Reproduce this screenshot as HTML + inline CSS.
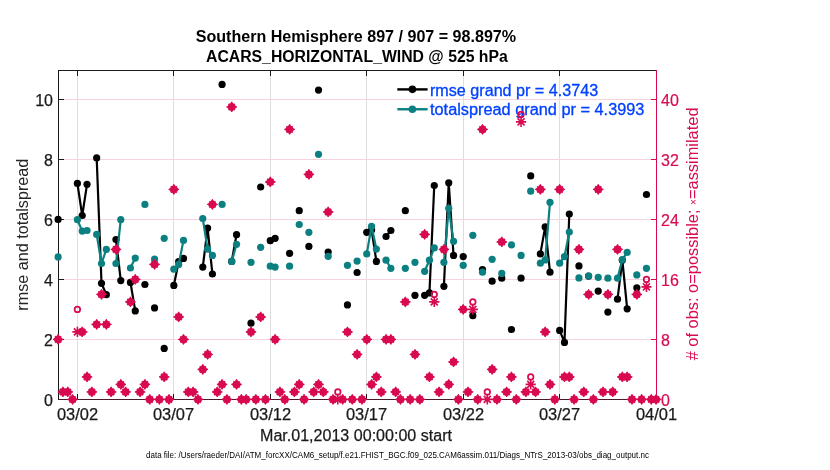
<!DOCTYPE html><html><head><meta charset="utf-8"><style>html,body{margin:0;padding:0;background:#fff;width:830px;height:470px;overflow:hidden}svg{display:block;will-change:transform}text{font-family:"Liberation Sans",sans-serif}</style></head><body>
<svg width="830" height="470" viewBox="0 0 830 470">
<rect x="0" y="0" width="830" height="470" fill="#fff"/>
<rect x="77" y="71" width="1" height="328" fill="#dedede"/>
<rect x="173" y="71" width="1" height="328" fill="#dedede"/>
<rect x="270" y="71" width="1" height="328" fill="#dedede"/>
<rect x="366" y="71" width="1" height="328" fill="#dedede"/>
<rect x="463" y="71" width="1" height="328" fill="#dedede"/>
<rect x="559" y="71" width="1" height="328" fill="#dedede"/>
<rect x="59" y="99" width="597" height="1" fill="#f7d3df"/>
<rect x="59" y="159" width="597" height="1" fill="#f7d3df"/>
<rect x="59" y="219" width="597" height="1" fill="#f7d3df"/>
<rect x="59" y="279" width="597" height="1" fill="#f7d3df"/>
<rect x="59" y="339" width="597" height="1" fill="#f7d3df"/>
<rect x="58" y="70" width="599" height="1" fill="#1a1a1a"/>
<rect x="58" y="399" width="599" height="1" fill="#4a1a2a"/>
<rect x="58" y="70" width="1" height="330" fill="#1a1a1a"/>
<rect x="656" y="70" width="1" height="330" fill="#d80a50"/>
<rect x="77" y="71" width="1" height="5" fill="#1a1a1a"/>
<rect x="77" y="394" width="1" height="5" fill="#1a1a1a"/>
<rect x="173" y="71" width="1" height="5" fill="#1a1a1a"/>
<rect x="173" y="394" width="1" height="5" fill="#1a1a1a"/>
<rect x="270" y="71" width="1" height="5" fill="#1a1a1a"/>
<rect x="270" y="394" width="1" height="5" fill="#1a1a1a"/>
<rect x="366" y="71" width="1" height="5" fill="#1a1a1a"/>
<rect x="366" y="394" width="1" height="5" fill="#1a1a1a"/>
<rect x="463" y="71" width="1" height="5" fill="#1a1a1a"/>
<rect x="463" y="394" width="1" height="5" fill="#1a1a1a"/>
<rect x="559" y="71" width="1" height="5" fill="#1a1a1a"/>
<rect x="559" y="394" width="1" height="5" fill="#1a1a1a"/>
<rect x="59" y="99" width="5" height="1" fill="#1a1a1a"/>
<rect x="651" y="99" width="5" height="1" fill="#d80a50"/>
<rect x="59" y="159" width="5" height="1" fill="#1a1a1a"/>
<rect x="651" y="159" width="5" height="1" fill="#d80a50"/>
<rect x="59" y="219" width="5" height="1" fill="#1a1a1a"/>
<rect x="651" y="219" width="5" height="1" fill="#d80a50"/>
<rect x="59" y="279" width="5" height="1" fill="#1a1a1a"/>
<rect x="651" y="279" width="5" height="1" fill="#d80a50"/>
<rect x="59" y="339" width="5" height="1" fill="#1a1a1a"/>
<rect x="651" y="339" width="5" height="1" fill="#d80a50"/>
<polyline points="77.39,183.4 82.21,215.5 87.04,184.3" fill="none" stroke="#000000" stroke-width="2.2" stroke-linejoin="round"/>
<polyline points="96.68,157.9 101.5,283.3 106.33,294.7" fill="none" stroke="#000000" stroke-width="2.2" stroke-linejoin="round"/>
<polyline points="115.97,239.5 120.79,280.6" fill="none" stroke="#000000" stroke-width="2.2" stroke-linejoin="round"/>
<polyline points="130.44,282.4 135.26,310.9" fill="none" stroke="#000000" stroke-width="2.2" stroke-linejoin="round"/>
<polyline points="173.84,285.4 178.67,261.7 183.49,258.4" fill="none" stroke="#000000" stroke-width="2.2" stroke-linejoin="round"/>
<polyline points="202.78,267.1 207.6,228.1 212.42,274" fill="none" stroke="#000000" stroke-width="2.2" stroke-linejoin="round"/>
<polyline points="231.71,261.4 236.54,234.7" fill="none" stroke="#000000" stroke-width="2.2" stroke-linejoin="round"/>
<polyline points="270.29,240.7 275.12,238.3" fill="none" stroke="#000000" stroke-width="2.2" stroke-linejoin="round"/>
<polyline points="366.75,232.3 371.57,229.9 376.39,261.4" fill="none" stroke="#000000" stroke-width="2.2" stroke-linejoin="round"/>
<polyline points="386.04,236.5 390.86,230.5" fill="none" stroke="#000000" stroke-width="2.2" stroke-linejoin="round"/>
<polyline points="424.62,295.3 429.44,292.9 434.26,185.5" fill="none" stroke="#000000" stroke-width="2.2" stroke-linejoin="round"/>
<polyline points="443.91,286.3 448.73,182.8 453.55,255.4" fill="none" stroke="#000000" stroke-width="2.2" stroke-linejoin="round"/>
<polyline points="540.36,253.9 545.18,226.9 550.01,272.2" fill="none" stroke="#000000" stroke-width="2.2" stroke-linejoin="round"/>
<polyline points="559.65,330.4 564.47,342.4 569.3,214" fill="none" stroke="#000000" stroke-width="2.2" stroke-linejoin="round"/>
<polyline points="617.52,299.2 622.34,260.2 627.17,308.8" fill="none" stroke="#000000" stroke-width="2.2" stroke-linejoin="round"/>
<circle cx="58.1" cy="219.4" r="3.6" fill="#000000"/>
<circle cx="77.39" cy="183.4" r="3.6" fill="#000000"/>
<circle cx="82.21" cy="215.5" r="3.6" fill="#000000"/>
<circle cx="87.04" cy="184.3" r="3.6" fill="#000000"/>
<circle cx="96.68" cy="157.9" r="3.6" fill="#000000"/>
<circle cx="101.5" cy="283.3" r="3.6" fill="#000000"/>
<circle cx="106.33" cy="294.7" r="3.6" fill="#000000"/>
<circle cx="115.97" cy="239.5" r="3.6" fill="#000000"/>
<circle cx="120.79" cy="280.6" r="3.6" fill="#000000"/>
<circle cx="130.44" cy="282.4" r="3.6" fill="#000000"/>
<circle cx="135.26" cy="310.9" r="3.6" fill="#000000"/>
<circle cx="144.91" cy="284.5" r="3.6" fill="#000000"/>
<circle cx="154.55" cy="307.9" r="3.6" fill="#000000"/>
<circle cx="164.2" cy="348.4" r="3.6" fill="#000000"/>
<circle cx="173.84" cy="285.4" r="3.6" fill="#000000"/>
<circle cx="178.67" cy="261.7" r="3.6" fill="#000000"/>
<circle cx="183.49" cy="258.4" r="3.6" fill="#000000"/>
<circle cx="202.78" cy="267.1" r="3.6" fill="#000000"/>
<circle cx="207.6" cy="228.1" r="3.6" fill="#000000"/>
<circle cx="212.42" cy="274" r="3.6" fill="#000000"/>
<circle cx="222.07" cy="84.4" r="3.6" fill="#000000"/>
<circle cx="231.71" cy="261.4" r="3.6" fill="#000000"/>
<circle cx="236.54" cy="234.7" r="3.6" fill="#000000"/>
<circle cx="251" cy="323.2" r="3.6" fill="#000000"/>
<circle cx="260.65" cy="187" r="3.6" fill="#000000"/>
<circle cx="270.29" cy="240.7" r="3.6" fill="#000000"/>
<circle cx="275.12" cy="238.3" r="3.6" fill="#000000"/>
<circle cx="289.58" cy="253.3" r="3.6" fill="#000000"/>
<circle cx="299.23" cy="210.7" r="3.6" fill="#000000"/>
<circle cx="308.88" cy="246.4" r="3.6" fill="#000000"/>
<circle cx="318.52" cy="90.1" r="3.6" fill="#000000"/>
<circle cx="328.17" cy="252.1" r="3.6" fill="#000000"/>
<circle cx="347.46" cy="304.9" r="3.6" fill="#000000"/>
<circle cx="357.1" cy="272.5" r="3.6" fill="#000000"/>
<circle cx="366.75" cy="232.3" r="3.6" fill="#000000"/>
<circle cx="371.57" cy="229.9" r="3.6" fill="#000000"/>
<circle cx="376.39" cy="261.4" r="3.6" fill="#000000"/>
<circle cx="386.04" cy="236.5" r="3.6" fill="#000000"/>
<circle cx="390.86" cy="230.5" r="3.6" fill="#000000"/>
<circle cx="405.33" cy="210.7" r="3.6" fill="#000000"/>
<circle cx="414.97" cy="295.3" r="3.6" fill="#000000"/>
<circle cx="424.62" cy="295.3" r="3.6" fill="#000000"/>
<circle cx="429.44" cy="292.9" r="3.6" fill="#000000"/>
<circle cx="434.26" cy="185.5" r="3.6" fill="#000000"/>
<circle cx="443.91" cy="286.3" r="3.6" fill="#000000"/>
<circle cx="448.73" cy="182.8" r="3.6" fill="#000000"/>
<circle cx="453.55" cy="255.4" r="3.6" fill="#000000"/>
<circle cx="463.2" cy="256.6" r="3.6" fill="#000000"/>
<circle cx="472.84" cy="315.7" r="3.6" fill="#000000"/>
<circle cx="482.49" cy="269.5" r="3.6" fill="#000000"/>
<circle cx="492.13" cy="281.2" r="3.6" fill="#000000"/>
<circle cx="501.78" cy="278.2" r="3.6" fill="#000000"/>
<circle cx="511.42" cy="329.5" r="3.6" fill="#000000"/>
<circle cx="521.07" cy="278.2" r="3.6" fill="#000000"/>
<circle cx="530.71" cy="175.9" r="3.6" fill="#000000"/>
<circle cx="540.36" cy="253.9" r="3.6" fill="#000000"/>
<circle cx="545.18" cy="226.9" r="3.6" fill="#000000"/>
<circle cx="550.01" cy="272.2" r="3.6" fill="#000000"/>
<circle cx="559.65" cy="330.4" r="3.6" fill="#000000"/>
<circle cx="564.47" cy="342.4" r="3.6" fill="#000000"/>
<circle cx="569.3" cy="214" r="3.6" fill="#000000"/>
<circle cx="578.94" cy="265.9" r="3.6" fill="#000000"/>
<circle cx="588.59" cy="276.1" r="3.6" fill="#000000"/>
<circle cx="598.23" cy="291.1" r="3.6" fill="#000000"/>
<circle cx="607.88" cy="312.1" r="3.6" fill="#000000"/>
<circle cx="617.52" cy="299.2" r="3.6" fill="#000000"/>
<circle cx="622.34" cy="260.2" r="3.6" fill="#000000"/>
<circle cx="627.17" cy="308.8" r="3.6" fill="#000000"/>
<circle cx="636.81" cy="287.8" r="3.6" fill="#000000"/>
<circle cx="646.46" cy="194.5" r="3.6" fill="#000000"/>
<polyline points="77.39,219.7 82.21,231.1 87.04,230.5" fill="none" stroke="#0c8080" stroke-width="2.2" stroke-linejoin="round"/>
<polyline points="96.68,234.4 101.5,263.5 106.33,249.4" fill="none" stroke="#0c8080" stroke-width="2.2" stroke-linejoin="round"/>
<polyline points="115.97,263.5 120.79,219.7" fill="none" stroke="#0c8080" stroke-width="2.2" stroke-linejoin="round"/>
<polyline points="130.44,268 135.26,258.1" fill="none" stroke="#0c8080" stroke-width="2.2" stroke-linejoin="round"/>
<polyline points="173.84,269.2 178.67,264.4 183.49,240.4" fill="none" stroke="#0c8080" stroke-width="2.2" stroke-linejoin="round"/>
<polyline points="202.78,218.5 207.6,249.1 212.42,255.4" fill="none" stroke="#0c8080" stroke-width="2.2" stroke-linejoin="round"/>
<polyline points="231.71,261.4 236.54,244.3" fill="none" stroke="#0c8080" stroke-width="2.2" stroke-linejoin="round"/>
<polyline points="270.29,266.2 275.12,267.1" fill="none" stroke="#0c8080" stroke-width="2.2" stroke-linejoin="round"/>
<polyline points="366.75,253.9 371.57,226.3 376.39,249.1" fill="none" stroke="#0c8080" stroke-width="2.2" stroke-linejoin="round"/>
<polyline points="386.04,260.2 390.86,268.3" fill="none" stroke="#0c8080" stroke-width="2.2" stroke-linejoin="round"/>
<polyline points="424.62,271.3 429.44,260.2 434.26,247.9" fill="none" stroke="#0c8080" stroke-width="2.2" stroke-linejoin="round"/>
<polyline points="443.91,262.3 448.73,208.3 453.55,241.3" fill="none" stroke="#0c8080" stroke-width="2.2" stroke-linejoin="round"/>
<polyline points="540.36,263.2 545.18,259.9 550.01,202.3" fill="none" stroke="#0c8080" stroke-width="2.2" stroke-linejoin="round"/>
<polyline points="559.65,263.2 564.47,256.6 569.3,232" fill="none" stroke="#0c8080" stroke-width="2.2" stroke-linejoin="round"/>
<polyline points="617.52,278.2 622.34,259.6 627.17,252.4" fill="none" stroke="#0c8080" stroke-width="2.2" stroke-linejoin="round"/>
<circle cx="58.1" cy="256.9" r="3.6" fill="#0c8080"/>
<circle cx="77.39" cy="219.7" r="3.6" fill="#0c8080"/>
<circle cx="82.21" cy="231.1" r="3.6" fill="#0c8080"/>
<circle cx="87.04" cy="230.5" r="3.6" fill="#0c8080"/>
<circle cx="96.68" cy="234.4" r="3.6" fill="#0c8080"/>
<circle cx="101.5" cy="263.5" r="3.6" fill="#0c8080"/>
<circle cx="106.33" cy="249.4" r="3.6" fill="#0c8080"/>
<circle cx="115.97" cy="263.5" r="3.6" fill="#0c8080"/>
<circle cx="120.79" cy="219.7" r="3.6" fill="#0c8080"/>
<circle cx="130.44" cy="268" r="3.6" fill="#0c8080"/>
<circle cx="135.26" cy="258.1" r="3.6" fill="#0c8080"/>
<circle cx="144.91" cy="204.4" r="3.6" fill="#0c8080"/>
<circle cx="154.55" cy="259" r="3.6" fill="#0c8080"/>
<circle cx="164.2" cy="238.3" r="3.6" fill="#0c8080"/>
<circle cx="173.84" cy="269.2" r="3.6" fill="#0c8080"/>
<circle cx="178.67" cy="264.4" r="3.6" fill="#0c8080"/>
<circle cx="183.49" cy="240.4" r="3.6" fill="#0c8080"/>
<circle cx="202.78" cy="218.5" r="3.6" fill="#0c8080"/>
<circle cx="207.6" cy="249.1" r="3.6" fill="#0c8080"/>
<circle cx="212.42" cy="255.4" r="3.6" fill="#0c8080"/>
<circle cx="222.07" cy="204.4" r="3.6" fill="#0c8080"/>
<circle cx="231.71" cy="261.4" r="3.6" fill="#0c8080"/>
<circle cx="236.54" cy="244.3" r="3.6" fill="#0c8080"/>
<circle cx="251" cy="262.3" r="3.6" fill="#0c8080"/>
<circle cx="260.65" cy="247.3" r="3.6" fill="#0c8080"/>
<circle cx="270.29" cy="266.2" r="3.6" fill="#0c8080"/>
<circle cx="275.12" cy="267.1" r="3.6" fill="#0c8080"/>
<circle cx="289.58" cy="266.2" r="3.6" fill="#0c8080"/>
<circle cx="299.23" cy="224.5" r="3.6" fill="#0c8080"/>
<circle cx="308.88" cy="232.3" r="3.6" fill="#0c8080"/>
<circle cx="318.52" cy="154.3" r="3.6" fill="#0c8080"/>
<circle cx="328.17" cy="256.3" r="3.6" fill="#0c8080"/>
<circle cx="347.46" cy="265.3" r="3.6" fill="#0c8080"/>
<circle cx="357.1" cy="261.1" r="3.6" fill="#0c8080"/>
<circle cx="366.75" cy="253.9" r="3.6" fill="#0c8080"/>
<circle cx="371.57" cy="226.3" r="3.6" fill="#0c8080"/>
<circle cx="376.39" cy="249.1" r="3.6" fill="#0c8080"/>
<circle cx="386.04" cy="260.2" r="3.6" fill="#0c8080"/>
<circle cx="390.86" cy="268.3" r="3.6" fill="#0c8080"/>
<circle cx="405.33" cy="268.3" r="3.6" fill="#0c8080"/>
<circle cx="414.97" cy="262.3" r="3.6" fill="#0c8080"/>
<circle cx="424.62" cy="271.3" r="3.6" fill="#0c8080"/>
<circle cx="429.44" cy="260.2" r="3.6" fill="#0c8080"/>
<circle cx="434.26" cy="247.9" r="3.6" fill="#0c8080"/>
<circle cx="443.91" cy="262.3" r="3.6" fill="#0c8080"/>
<circle cx="448.73" cy="208.3" r="3.6" fill="#0c8080"/>
<circle cx="453.55" cy="241.3" r="3.6" fill="#0c8080"/>
<circle cx="463.2" cy="265.3" r="3.6" fill="#0c8080"/>
<circle cx="472.84" cy="235.3" r="3.6" fill="#0c8080"/>
<circle cx="482.49" cy="272.2" r="3.6" fill="#0c8080"/>
<circle cx="492.13" cy="259.3" r="3.6" fill="#0c8080"/>
<circle cx="501.78" cy="273.4" r="3.6" fill="#0c8080"/>
<circle cx="511.42" cy="244.9" r="3.6" fill="#0c8080"/>
<circle cx="521.07" cy="255.4" r="3.6" fill="#0c8080"/>
<circle cx="530.71" cy="191.2" r="3.6" fill="#0c8080"/>
<circle cx="540.36" cy="263.2" r="3.6" fill="#0c8080"/>
<circle cx="545.18" cy="259.9" r="3.6" fill="#0c8080"/>
<circle cx="550.01" cy="202.3" r="3.6" fill="#0c8080"/>
<circle cx="559.65" cy="263.2" r="3.6" fill="#0c8080"/>
<circle cx="564.47" cy="256.6" r="3.6" fill="#0c8080"/>
<circle cx="569.3" cy="232" r="3.6" fill="#0c8080"/>
<circle cx="578.94" cy="277.9" r="3.6" fill="#0c8080"/>
<circle cx="588.59" cy="276.1" r="3.6" fill="#0c8080"/>
<circle cx="598.23" cy="277.3" r="3.6" fill="#0c8080"/>
<circle cx="607.88" cy="278.2" r="3.6" fill="#0c8080"/>
<circle cx="617.52" cy="278.2" r="3.6" fill="#0c8080"/>
<circle cx="622.34" cy="259.6" r="3.6" fill="#0c8080"/>
<circle cx="627.17" cy="252.4" r="3.6" fill="#0c8080"/>
<circle cx="636.81" cy="274.9" r="3.6" fill="#0c8080"/>
<circle cx="646.46" cy="268.3" r="3.6" fill="#0c8080"/>
<rect x="397.3" y="88.2" width="30.3" height="2.4" fill="#000"/><circle cx="412.4" cy="89.35" r="3.8" fill="#000"/>
<rect x="397.3" y="108.05" width="30.3" height="2.4" fill="#0c8080"/><circle cx="412.4" cy="109.25" r="3.8" fill="#0c8080"/>
<text x="430" y="95.5" font-size="16" fill="#0040ff" stroke="#0040ff" stroke-width="0.3" textLength="168.1" lengthAdjust="spacingAndGlyphs">rmse grand pr = 4.3743</text>
<text x="430" y="115" font-size="16" fill="#0040ff" stroke="#0040ff" stroke-width="0.3" textLength="214.4" lengthAdjust="spacingAndGlyphs">totalspread grand pr = 4.3993</text>
<defs><path id="ast" d="M-5.1,0H5.1M0,-5.1V5.1M-3.5,-3.5L3.5,3.5M-3.5,3.5L3.5,-3.5" stroke="#d80a50" stroke-width="1.6" fill="none"/><g id="blob" fill="#d80a50" stroke="#d80a50"><path d="M0,-5.1L5.1,0L0,5.1L-5.1,0Z" stroke="none"/><path d="M-5.2,0H5.2M0,-5.2V5.2" stroke-width="1.2" fill="none"/><path d="M-3.1,-3.1L3.1,3.1M-3.1,3.1L3.1,-3.1" stroke-width="1.8" fill="none"/></g></defs>
<circle cx="77.39" cy="309.4" r="2.75" fill="none" stroke="#d80a50" stroke-width="1.75"/>
<circle cx="337.81" cy="391.9" r="2.75" fill="none" stroke="#d80a50" stroke-width="1.75"/>
<circle cx="434.26" cy="294.4" r="2.75" fill="none" stroke="#d80a50" stroke-width="1.75"/>
<circle cx="472.84" cy="301.9" r="2.75" fill="none" stroke="#d80a50" stroke-width="1.75"/>
<circle cx="487.31" cy="391.9" r="2.75" fill="none" stroke="#d80a50" stroke-width="1.75"/>
<circle cx="521.07" cy="114.4" r="2.75" fill="none" stroke="#d80a50" stroke-width="1.75"/>
<circle cx="530.71" cy="376.9" r="2.75" fill="none" stroke="#d80a50" stroke-width="1.75"/>
<circle cx="646.46" cy="279.4" r="2.75" fill="none" stroke="#d80a50" stroke-width="1.75"/>
<use href="#blob" x="58.1" y="339.4"/>
<use href="#blob" x="62.92" y="391.9"/>
<use href="#blob" x="67.75" y="391.9"/>
<use href="#blob" x="72.57" y="399.4"/>
<use href="#ast" x="77.39" y="331.9"/>
<use href="#blob" x="82.21" y="331.9"/>
<use href="#blob" x="87.04" y="376.9"/>
<use href="#blob" x="91.86" y="391.9"/>
<use href="#blob" x="96.68" y="324.4"/>
<use href="#blob" x="101.5" y="294.4"/>
<use href="#blob" x="106.33" y="324.4"/>
<use href="#blob" x="111.15" y="391.9"/>
<use href="#blob" x="115.97" y="249.4"/>
<use href="#blob" x="120.79" y="384.4"/>
<use href="#blob" x="125.62" y="391.9"/>
<use href="#blob" x="130.44" y="301.9"/>
<use href="#blob" x="135.26" y="279.4"/>
<use href="#blob" x="140.08" y="391.9"/>
<use href="#blob" x="144.91" y="384.4"/>
<use href="#blob" x="149.73" y="399.4"/>
<use href="#blob" x="154.55" y="264.4"/>
<use href="#blob" x="159.37" y="399.4"/>
<use href="#blob" x="164.2" y="376.9"/>
<use href="#blob" x="169.02" y="399.4"/>
<use href="#blob" x="173.84" y="189.4"/>
<use href="#blob" x="178.67" y="316.9"/>
<use href="#blob" x="183.49" y="339.4"/>
<use href="#blob" x="188.31" y="391.9"/>
<use href="#blob" x="193.13" y="391.9"/>
<use href="#blob" x="197.96" y="399.4"/>
<use href="#blob" x="202.78" y="369.4"/>
<use href="#blob" x="207.6" y="354.4"/>
<use href="#blob" x="212.42" y="204.4"/>
<use href="#blob" x="217.25" y="391.9"/>
<use href="#blob" x="222.07" y="384.4"/>
<use href="#blob" x="226.89" y="399.4"/>
<use href="#blob" x="231.71" y="106.9"/>
<use href="#blob" x="236.54" y="384.4"/>
<use href="#blob" x="241.36" y="399.4"/>
<use href="#blob" x="246.18" y="399.4"/>
<use href="#blob" x="251" y="331.9"/>
<use href="#blob" x="255.83" y="399.4"/>
<use href="#blob" x="260.65" y="316.9"/>
<use href="#blob" x="265.47" y="399.4"/>
<use href="#blob" x="270.29" y="181.9"/>
<use href="#blob" x="275.12" y="339.4"/>
<use href="#blob" x="279.94" y="391.9"/>
<use href="#blob" x="284.76" y="399.4"/>
<use href="#blob" x="289.58" y="129.4"/>
<use href="#blob" x="294.41" y="391.9"/>
<use href="#blob" x="299.23" y="384.4"/>
<use href="#blob" x="304.05" y="399.4"/>
<use href="#blob" x="308.88" y="174.4"/>
<use href="#blob" x="313.7" y="391.9"/>
<use href="#blob" x="318.52" y="384.4"/>
<use href="#blob" x="323.34" y="391.9"/>
<use href="#blob" x="328.17" y="211.9"/>
<use href="#blob" x="332.99" y="399.4"/>
<use href="#ast" x="337.81" y="399.4"/>
<use href="#blob" x="342.63" y="399.4"/>
<use href="#blob" x="347.46" y="331.9"/>
<use href="#blob" x="352.28" y="399.4"/>
<use href="#blob" x="357.1" y="354.4"/>
<use href="#blob" x="361.92" y="399.4"/>
<use href="#blob" x="366.75" y="339.4"/>
<use href="#blob" x="371.57" y="384.4"/>
<use href="#blob" x="376.39" y="376.9"/>
<use href="#blob" x="381.21" y="391.9"/>
<use href="#blob" x="386.04" y="339.4"/>
<use href="#blob" x="390.86" y="339.4"/>
<use href="#blob" x="395.68" y="391.9"/>
<use href="#blob" x="400.5" y="399.4"/>
<use href="#blob" x="405.33" y="301.9"/>
<use href="#blob" x="410.15" y="399.4"/>
<use href="#blob" x="414.97" y="354.4"/>
<use href="#blob" x="419.8" y="399.4"/>
<use href="#blob" x="424.62" y="234.4"/>
<use href="#blob" x="429.44" y="376.9"/>
<use href="#ast" x="434.26" y="301.9"/>
<use href="#blob" x="439.09" y="391.9"/>
<use href="#blob" x="443.91" y="249.4"/>
<use href="#blob" x="448.73" y="384.4"/>
<use href="#blob" x="453.55" y="361.9"/>
<use href="#blob" x="458.38" y="399.4"/>
<use href="#blob" x="463.2" y="309.4"/>
<use href="#blob" x="468.02" y="391.9"/>
<use href="#ast" x="472.84" y="309.4"/>
<use href="#blob" x="477.67" y="399.4"/>
<use href="#blob" x="482.49" y="129.4"/>
<use href="#ast" x="487.31" y="399.4"/>
<use href="#blob" x="492.13" y="369.4"/>
<use href="#blob" x="496.96" y="399.4"/>
<use href="#blob" x="501.78" y="241.9"/>
<use href="#blob" x="506.6" y="391.9"/>
<use href="#blob" x="511.42" y="376.9"/>
<use href="#blob" x="516.25" y="399.4"/>
<use href="#ast" x="521.07" y="121.9"/>
<use href="#blob" x="525.89" y="391.9"/>
<use href="#ast" x="530.71" y="384.4"/>
<use href="#blob" x="535.54" y="391.9"/>
<use href="#blob" x="540.36" y="189.4"/>
<use href="#blob" x="545.18" y="331.9"/>
<use href="#blob" x="550.01" y="384.4"/>
<use href="#blob" x="554.83" y="399.4"/>
<use href="#blob" x="559.65" y="189.4"/>
<use href="#blob" x="564.47" y="376.9"/>
<use href="#blob" x="569.3" y="376.9"/>
<use href="#blob" x="574.12" y="399.4"/>
<use href="#blob" x="578.94" y="249.4"/>
<use href="#blob" x="583.76" y="391.9"/>
<use href="#blob" x="588.59" y="294.4"/>
<use href="#blob" x="593.41" y="399.4"/>
<use href="#blob" x="598.23" y="189.4"/>
<use href="#blob" x="603.05" y="391.9"/>
<use href="#blob" x="607.88" y="294.4"/>
<use href="#blob" x="612.7" y="391.9"/>
<use href="#blob" x="617.52" y="249.4"/>
<use href="#blob" x="622.34" y="376.9"/>
<use href="#blob" x="627.17" y="376.9"/>
<use href="#blob" x="631.99" y="399.4"/>
<use href="#blob" x="636.81" y="294.4"/>
<use href="#blob" x="641.63" y="399.4"/>
<use href="#ast" x="646.46" y="286.9"/>
<use href="#blob" x="651.28" y="399.4"/>
<use href="#blob" x="656.1" y="399.4"/>
<text x="53" y="405.71" font-size="16" text-anchor="end" fill="#1a1a1a" stroke="#1a1a1a" stroke-width="0.25">0</text>
<text x="53" y="345.85" font-size="16" text-anchor="end" fill="#1a1a1a" stroke="#1a1a1a" stroke-width="0.25">2</text>
<text x="53" y="285.99" font-size="16" text-anchor="end" fill="#1a1a1a" stroke="#1a1a1a" stroke-width="0.25">4</text>
<text x="53" y="226.12" font-size="16" text-anchor="end" fill="#1a1a1a" stroke="#1a1a1a" stroke-width="0.25">6</text>
<text x="53" y="166.26" font-size="16" text-anchor="end" fill="#1a1a1a" stroke="#1a1a1a" stroke-width="0.25">8</text>
<text x="53" y="106.4" font-size="16" text-anchor="end" fill="#1a1a1a" stroke="#1a1a1a" stroke-width="0.25">10</text>
<text x="661.1" y="405.71" font-size="16" fill="#d80a50" stroke="#d80a50" stroke-width="0.2">0</text>
<text x="661.1" y="345.85" font-size="16" fill="#d80a50" stroke="#d80a50" stroke-width="0.2">8</text>
<text x="661.1" y="285.99" font-size="16" fill="#d80a50" stroke="#d80a50" stroke-width="0.2">16</text>
<text x="661.1" y="226.12" font-size="16" fill="#d80a50" stroke="#d80a50" stroke-width="0.2">24</text>
<text x="661.1" y="166.26" font-size="16" fill="#d80a50" stroke="#d80a50" stroke-width="0.2">32</text>
<text x="661.1" y="106.4" font-size="16" fill="#d80a50" stroke="#d80a50" stroke-width="0.2">40</text>
<text x="77.5" y="420.4" font-size="16" text-anchor="middle" fill="#1a1a1a" stroke="#1a1a1a" stroke-width="0.25" textLength="41.2" lengthAdjust="spacingAndGlyphs">03/02</text>
<text x="173.5" y="420.4" font-size="16" text-anchor="middle" fill="#1a1a1a" stroke="#1a1a1a" stroke-width="0.25" textLength="41.2" lengthAdjust="spacingAndGlyphs">03/07</text>
<text x="270.5" y="420.4" font-size="16" text-anchor="middle" fill="#1a1a1a" stroke="#1a1a1a" stroke-width="0.25" textLength="41.2" lengthAdjust="spacingAndGlyphs">03/12</text>
<text x="366.5" y="420.4" font-size="16" text-anchor="middle" fill="#1a1a1a" stroke="#1a1a1a" stroke-width="0.25" textLength="41.2" lengthAdjust="spacingAndGlyphs">03/17</text>
<text x="463.5" y="420.4" font-size="16" text-anchor="middle" fill="#1a1a1a" stroke="#1a1a1a" stroke-width="0.25" textLength="41.2" lengthAdjust="spacingAndGlyphs">03/22</text>
<text x="559.5" y="420.4" font-size="16" text-anchor="middle" fill="#1a1a1a" stroke="#1a1a1a" stroke-width="0.25" textLength="41.2" lengthAdjust="spacingAndGlyphs">03/27</text>
<text x="656.5" y="420.4" font-size="16" text-anchor="middle" fill="#1a1a1a" stroke="#1a1a1a" stroke-width="0.25" textLength="41.2" lengthAdjust="spacingAndGlyphs">04/01</text>
<text x="355.9" y="42" font-size="16" font-weight="bold" text-anchor="middle" fill="#000" textLength="320.4" lengthAdjust="spacingAndGlyphs">Southern Hemisphere 897 / 907 = 98.897%</text>
<text x="356.9" y="61.5" font-size="16" font-weight="bold" text-anchor="middle" fill="#000" textLength="301.8" lengthAdjust="spacingAndGlyphs">ACARS_HORIZONTAL_WIND @ 525 hPa</text>
<text x="356" y="441" font-size="16" text-anchor="middle" fill="#1a1a1a" stroke="#1a1a1a" stroke-width="0.25" textLength="192" lengthAdjust="spacingAndGlyphs">Mar.01,2013 00:00:00 start</text>
<text transform="translate(28,234.7) rotate(-90)" font-size="16" text-anchor="middle" fill="#262626" textLength="152" lengthAdjust="spacingAndGlyphs">rmse and totalspread</text>
<text transform="translate(698.3,233.9) rotate(-90) scale(1.025,1)" font-size="16" text-anchor="middle" fill="#d80a50"># of obs: o=possible; <tspan font-size="10" dy="-1">×</tspan><tspan dy="1">=assimilated</tspan></text>
<text x="146" y="458.2" font-size="8.5" fill="#000" textLength="503" lengthAdjust="spacingAndGlyphs">data file: /Users/raeder/DAI/ATM_forcXX/CAM6_setup/f.e21.FHIST_BGC.f09_025.CAM6assim.011/Diags_NTrS_2013-03/obs_diag_output.nc</text>
</svg></body></html>
